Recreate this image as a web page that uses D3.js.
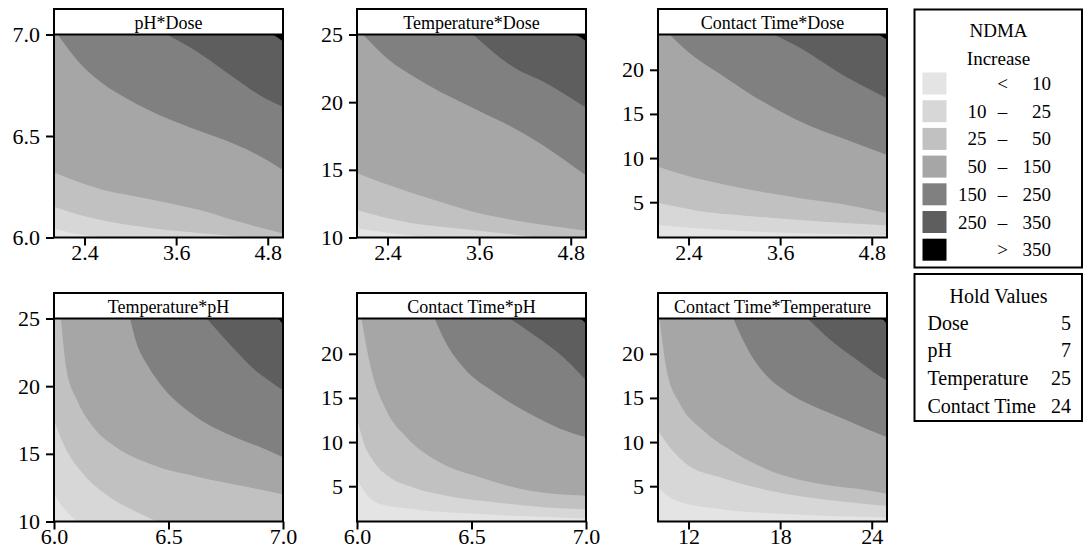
<!DOCTYPE html>
<html>
<head>
<meta charset="utf-8">
<script src="https://cdn.jsdelivr.net/npm/d3@7"></script>
<style>
  body { margin: 0; background: #fff; }
  svg text { font-family: "Liberation Serif", "Times New Roman", Times, serif; fill: #000; }
</style>
</head>
<body>
<div id="chart"></div>
<script>
// factors and their hold values
const factorNames = ["Dose", "pH", "Temperature", "Contact Time"];
const factorRanges = [[2, 5], [6, 7], [10, 25], [1, 24]];
const factorDecimals = [1, 1, 0, 0];
const holdValues = [5, 7, 25, 24];

// tick labels
const doseTicks = [2.4, 3.6, 4.8];
const phTicks = [6.0, 6.5, 7.0];
const tempTicksX = [12, 18, 24];
const tempTicksY = [10, 15, 20, 25];
const timeTicks = [5, 10, 15, 20];

// panels (x factor, y factor)
const panelTitles = ["pH*Dose", "Temperature*Dose", "Contact Time*Dose",
    "Temperature*pH", "Contact Time*pH", "Contact Time*Temperature"];
const panelX = [0, 0, 0, 1, 1, 2];
const panelY = [1, 2, 3, 2, 3, 3];
const panelXTicks = [doseTicks, doseTicks, doseTicks, phTicks, phTicks, tempTicksX];
const panelYTicks = [phTicks, tempTicksY, timeTicks, tempTicksY, timeTicks, timeTicks];

// NDMA increase classes
const levelLow = [null, 10, 25, 50, 150, 250, 350];
const levelHigh = [10, 25, 50, 150, 250, 350, null];

// contour edges, lowest level first (10, 25, 50, 150, 250, 350)
const phDoseEdges = [
    [[2.0, 6.045], [2.2, 6.025], [2.45, 6.01], [2.75, 6.0]],
    [[2.0, 6.152], [2.35, 6.11], [2.73, 6.078], [3.1, 6.055], [3.48, 6.037], [3.9, 6.022], [4.3, 6.01], [4.7, 6.0]],
    [[2.0, 6.32], [2.35, 6.27], [2.73, 6.226], [3.04, 6.205], [3.5, 6.17], [3.91, 6.135], [4.4, 6.08], [5.0, 6.02]],
    [[2.05, 7.0], [2.3, 6.875], [2.6, 6.77], [3.0, 6.675], [3.4, 6.6], [3.8, 6.54], [4.2, 6.485], [4.6, 6.42], [5.0, 6.333]],
    [[3.48, 7.0], [3.91, 6.907], [4.35, 6.79], [4.7, 6.7], [5.0, 6.644]],
    [[4.85, 7.0], [4.93, 6.985], [5.0, 6.965]]
];
const tempDoseEdges = [
    [[2.0, 10.68], [2.4, 10.35], [2.8, 10.1], [3.1, 10.0]],
    [[2.0, 12.03], [2.35, 11.5], [2.73, 11.05], [3.17, 10.75], [3.6, 10.5], [4.0, 10.25], [4.4, 10.0]],
    [[2.0, 14.74], [2.35, 14.0], [2.73, 13.27], [3.17, 12.5], [3.6, 11.79], [4.04, 11.3], [4.48, 10.9], [5.0, 10.5]],
    [[2.08, 25], [2.4, 23.2], [2.8, 21.7], [3.2, 20.45], [3.6, 19.35], [4.0, 18.25], [4.4, 16.95], [4.8, 15.4], [5.0, 14.6]],
    [[3.52, 25], [4.04, 22.62], [4.48, 21.4], [4.91, 19.92], [5.0, 19.6]],
    [[4.85, 25], [4.93, 24.8], [5.0, 24.5]]
];
const timeDoseEdges = [
    [[2.0, 2.42], [2.6, 1.99], [3.47, 1.6], [4.35, 1.4], [5.0, 1.28]],
    [[2.0, 4.94], [2.3, 4.4], [2.6, 3.92], [3.04, 3.55], [3.47, 3.24], [3.91, 2.95], [4.35, 2.7], [5.0, 2.35]],
    [[2.0, 9.02], [2.3, 8.2], [2.6, 7.51], [3.04, 6.7], [3.47, 6.0], [3.91, 5.4], [4.35, 4.87], [4.7, 4.3], [5.0, 3.74]],
    [[2.15, 24], [2.4, 22.0], [2.8, 19.6], [3.2, 17.3], [3.6, 15.3], [4.0, 13.6], [4.4, 12.3], [4.8, 11.0], [5.0, 10.35]],
    [[3.52, 24], [3.91, 22.24], [4.35, 19.79], [4.79, 17.7], [5.0, 16.77]],
    [[4.88, 24], [4.95, 23.7], [5.0, 23.4]]
];
const tempPhEdges = [
    [[6.0, 12.03], [6.04, 11.04], [6.1, 10.0]],
    [[6.0, 17.46], [6.055, 15.24], [6.128, 13.51], [6.245, 11.78], [6.35, 10.8], [6.45, 10.0]],
    [[6.03, 25], [6.055, 21.2], [6.1, 19.0], [6.17, 17.0], [6.27, 15.5], [6.42, 14.25], [6.64, 13.26], [6.83, 12.6], [7.0, 12.0]],
    [[6.332, 25], [6.36, 23.2], [6.41, 21.5], [6.48, 19.8], [6.56, 18.5], [6.66, 17.3], [6.78, 16.3], [6.9, 15.5], [7.0, 14.74]],
    [[6.667, 25], [6.73, 23.8], [6.8, 22.5], [6.87, 21.3], [6.94, 20.4], [7.0, 19.69]],
    [[6.975, 25], [6.99, 24.8], [7.0, 24.5]]
];
const timePhEdges = [
    [[6.0, 5.82], [6.04, 4.11], [6.1, 2.98], [6.245, 2.4], [6.536, 1.84], [7.0, 1.35]],
    [[6.0, 12.82], [6.026, 10.17], [6.07, 7.9], [6.143, 6.0], [6.245, 4.86], [6.39, 3.92], [6.609, 3.16], [6.827, 2.59], [7.0, 2.4]],
    [[6.019, 24], [6.063, 18.13], [6.128, 13.58], [6.216, 10.55], [6.347, 7.9], [6.536, 6.0], [6.754, 4.49], [7.0, 3.92]],
    [[6.339, 24], [6.39, 21.16], [6.463, 18.5], [6.609, 15.48], [6.754, 13.2], [6.972, 10.74], [7.0, 10.55]],
    [[6.667, 24], [6.754, 22.48], [6.9, 19.64], [7.0, 17.0]],
    [[6.97, 24], [6.99, 23.7], [7.0, 23.4]]
];
const timeTempEdges = [
    [[10, 4.86], [11.2, 3.35], [14.06, 2.41], [18.44, 1.84], [25, 1.45]],
    [[10, 11.31], [10.77, 9.41], [11.86, 7.52], [14.06, 6.0], [17.35, 4.49], [20.64, 3.55], [25, 2.78]],
    [[10.1, 24], [10.57, 18.13], [11.43, 14.34], [12.97, 11.3], [15.16, 8.66], [17.35, 6.76], [20.64, 5.25], [23.93, 4.49], [25, 4.11]],
    [[14.93, 24], [15.5, 21.8], [16.3, 19.3], [17.3, 17.2], [18.5, 15.6], [20, 14.2], [21.5, 13.1], [23, 12.0], [24.2, 11.1], [25, 10.55]],
    [[19.8, 24], [21.32, 21.53], [23.07, 19.26], [24.6, 17.36], [25, 16.97]],
    [[24.6, 24], [24.85, 23.7], [25, 23.3]]
];
const panelEdges = [phDoseEdges, tempDoseEdges, timeDoseEdges, tempPhEdges, timePhEdges, timeTempEdges];

// grey shades, lightest class first
const shades = ["#e4e4e4", "#d7d7d7", "#c1c1c1", "#a6a6a6", "#808080", "#5e5e5e", "#000000"];

const width = 1083, height = 560;
const colLeft = [54, 357, 658];
const rowTop = [34.5, 318.5];
const plotW = 229, plotH = 203, headH = 25.5;

const svg = d3.select("#chart").append("svg")
    .attr("width", width)
    .attr("height", height);

panelTitles.forEach((title, i) => {
    let left = colLeft[i % 3], top = rowTop[Math.floor(i / 3)];
    let xf = panelX[i], yf = panelY[i];

    let g = svg.append("g").attr("transform", `translate(${left},${top})`);

    let x = d3.scaleLinear().domain(factorRanges[xf]).range([0, plotW]);
    let y = d3.scaleLinear().domain(factorRanges[yf]).range([plotH, 0]);

    g.append("clipPath").attr("id", "clip" + i)
        .append("rect").attr("width", plotW).attr("height", plotH);

    let plot = g.append("g").attr("clip-path", `url(#clip${i})`);

    plot.append("rect")
        .attr("width", plotW)
        .attr("height", plotH)
        .attr("fill", shades[0]);

    let edgeLine = d3.line()
        .x(d => x(d[0]))
        .y(d => y(d[1]))
        .curve(d3.curveMonotoneX);

    // region above/right of an edge: the smooth edge, then round the top-right corner
    function regionPath(edge) {
        let xd = x.domain(), yd = y.domain();
        let first = edge[0], last = edge[edge.length - 1];
        let corners = [];
        if (last[0] < xd[1]) corners.push([xd[1], yd[0]]);
        corners.push([xd[1], yd[1]]);
        if (first[1] < yd[1]) corners.push([xd[0], yd[1]]);
        return edgeLine(edge) + corners.map(c => "L" + x(c[0]) + "," + y(c[1])).join("") + "Z";
    }

    plot.selectAll(".band")
        .data(panelEdges[i])
        .enter()
        .append("path")
        .attr("class", "band")
        .attr("d", d => regionPath(d))
        .attr("fill", (d, k) => shades[k + 1]);

    // axes
    let xAxis = g.append("g")
        .attr("transform", `translate(0,${plotH})`)
        .call(d3.axisBottom(x)
            .tickValues(panelXTicks[i])
            .tickSize(8)
            .tickPadding(-1)
            .tickFormat(d3.format("." + factorDecimals[xf] + "f")));
    let yAxis = g.append("g")
        .call(d3.axisLeft(y)
            .tickValues(panelYTicks[i])
            .tickSize(8)
            .tickPadding(6)
            .tickFormat(d3.format("." + factorDecimals[yf] + "f")));

    [xAxis, yAxis].forEach(ax => {
        ax.attr("font-family", null).attr("font-size", null);
        ax.select(".domain").remove();
        ax.selectAll("line").attr("stroke", "#000").attr("stroke-width", 2);
        ax.selectAll("text").style("font-size", "22px");
    });

    // header and frame
    g.append("rect")
        .attr("y", -headH)
        .attr("width", plotW)
        .attr("height", headH)
        .attr("fill", "#fff");
    g.append("line")
        .attr("x1", 0).attr("x2", plotW)
        .attr("stroke", "#000").attr("stroke-width", 2);
    g.append("rect")
        .attr("y", -headH)
        .attr("width", plotW)
        .attr("height", plotH + headH)
        .attr("fill", "none")
        .attr("stroke", "#000")
        .attr("stroke-width", 2);
    g.append("text")
        .attr("x", plotW / 2)
        .attr("y", -5.5)
        .attr("text-anchor", "middle")
        .style("font-size", "18px")
        .text(title);
});

// legend
let legend = svg.append("g").attr("transform", "translate(914.5,9.5)");
legend.append("rect")
    .attr("width", 167.5).attr("height", 258)
    .attr("fill", "#fff").attr("stroke", "#000").attr("stroke-width", 2);
legend.append("text").attr("x", 84).attr("y", 27).attr("text-anchor", "middle")
    .style("font-size", "19px").text("NDMA");
legend.append("text").attr("x", 84).attr("y", 55).attr("text-anchor", "middle")
    .style("font-size", "19px").text("Increase");

let rows = legend.selectAll(".row")
    .data(levelLow.map((lo, k) => ({ lo: lo, hi: levelHigh[k], k: k })))
    .enter()
    .append("g")
    .attr("class", "row")
    .attr("transform", d => `translate(0,${63 + d.k * 27.7})`);
rows.append("rect")
    .attr("x", 8).attr("width", 24).attr("height", 22)
    .attr("fill", d => shades[d.k]);
rows.append("text")
    .attr("x", 72).attr("y", 17.5).attr("text-anchor", "end")
    .style("font-size", "19px")
    .text(d => (d.lo === null || d.hi === null) ? "" : d.lo);
rows.append("text")
    .attr("x", 88).attr("y", 17.5).attr("text-anchor", "middle")
    .style("font-size", "19px")
    .text(d => d.lo === null ? "<" : (d.hi === null ? ">" : "\u2013"));
rows.append("text")
    .attr("x", 136.5).attr("y", 17.5).attr("text-anchor", "end")
    .style("font-size", "19px")
    .text(d => d.hi === null ? d.lo : d.hi);

// hold values
let hold = svg.append("g").attr("transform", "translate(914.5,274)");
hold.append("rect")
    .attr("width", 167.5).attr("height", 147)
    .attr("fill", "#fff").attr("stroke", "#000").attr("stroke-width", 2);
hold.append("text").attr("x", 84).attr("y", 29).attr("text-anchor", "middle")
    .style("font-size", "20px").text("Hold Values");
factorNames.forEach((name, k) => {
    hold.append("text").attr("x", 13).attr("y", 55.5 + k * 27.7)
        .style("font-size", "20px").text(name);
    hold.append("text").attr("x", 156.5).attr("y", 55.5 + k * 27.7)
        .attr("text-anchor", "end")
        .style("font-size", "20px").text(holdValues[k]);
});
</script>
</body>
</html>
